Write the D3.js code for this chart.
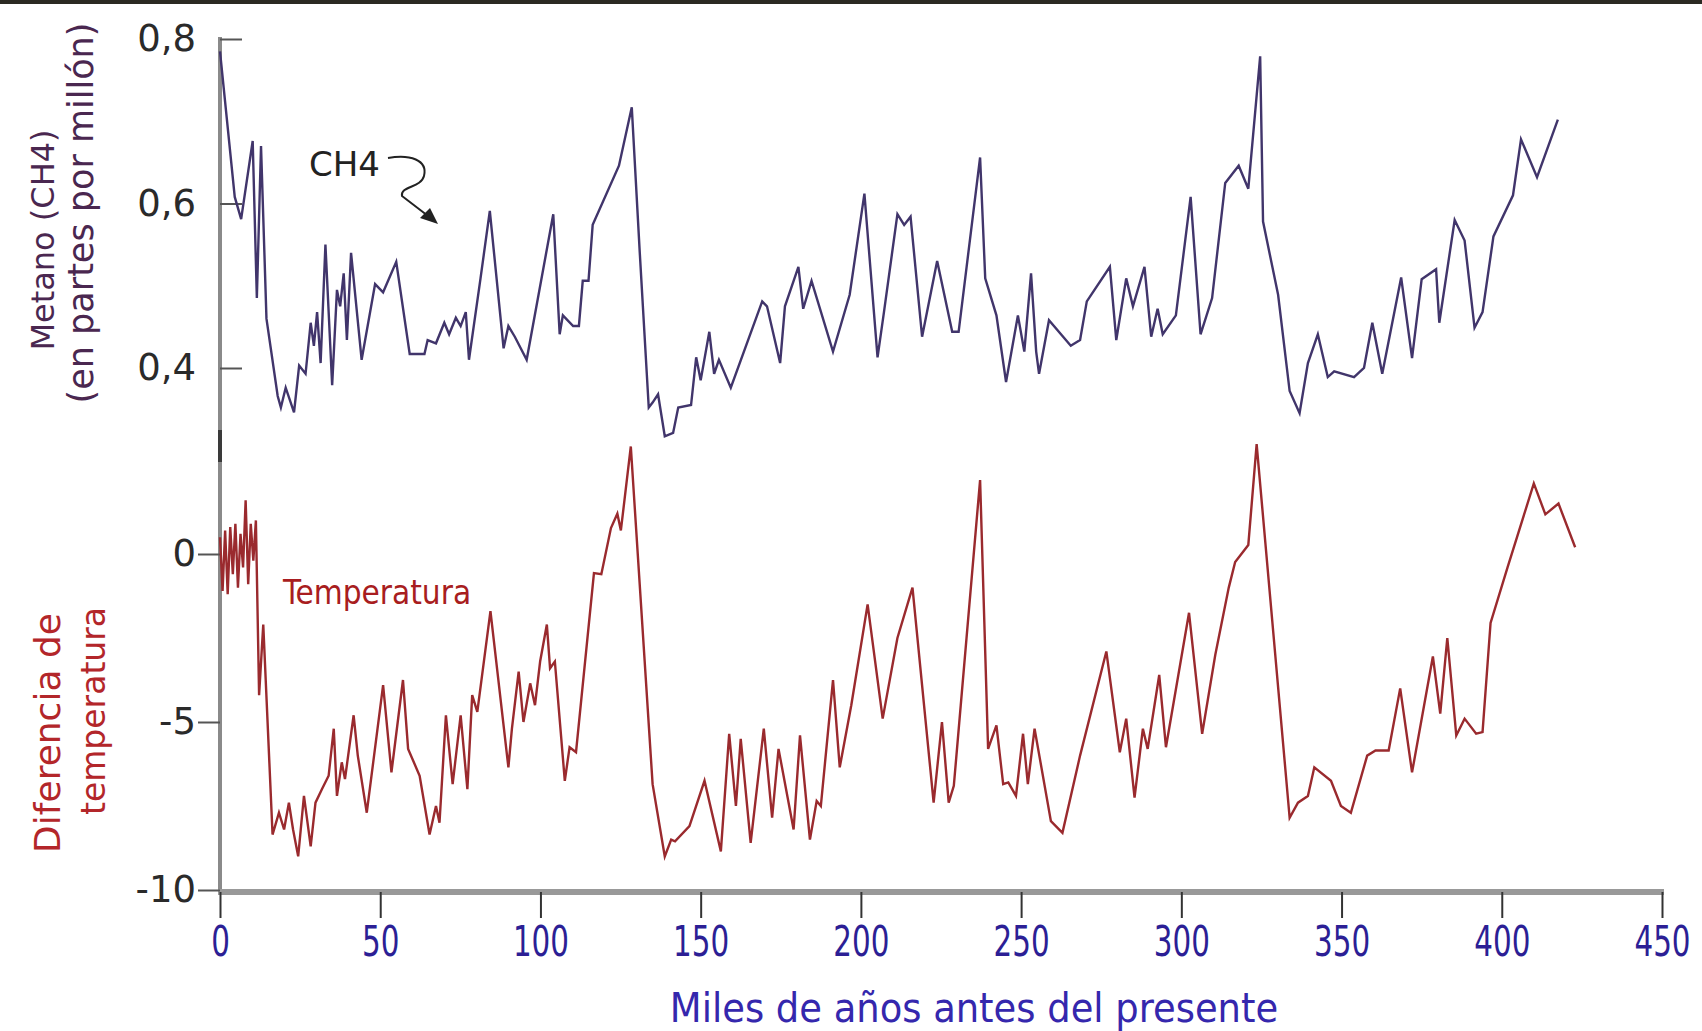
<!DOCTYPE html>
<html>
<head>
<meta charset="utf-8">
<script src="https://cdn.jsdelivr.net/npm/d3@7"></script>
<style>
  body { margin: 0; background: #fff; }
  text { font-family: "Comic Sans MS", "DejaVu Sans", sans-serif; }
</style>
</head>
<body>
<script>
// Metano (CH4) y temperatura, Vostok, miles de años antes del presente
var ch4Years = [0, 4.6, 6.6, 10.2, 11.5, 12.8, 14.5, 18, 19, 20.5, 23.1, 24.7, 26.7, 28.3, 29.3, 30.3, 31.4,
  32.9, 35, 36.5, 37.5, 38.6, 39.6, 40.9, 44.2, 48.4, 50.9, 55, 59.2, 63.8, 64.8, 67.4, 70, 71.5, 73.6,
  75.1, 76.7, 77.7, 81.3, 84.2, 88.5, 90, 92, 95.7, 104, 106, 107, 110.2, 112, 113.2, 115, 116.3, 124.5,
  128.5, 131, 133.8, 135, 136.7, 138.8, 141.4, 143, 147, 148.6, 150, 152.7, 154.2, 155.7, 159.4, 169.2,
  170.7, 174.8, 176.3, 180.5, 182, 184.6, 191.3, 196.5, 201.1, 205.2, 207.2, 211.4, 213.5, 215.5, 219.1,
  223.8, 228.5, 230.5, 237.2, 238.8, 242.3, 245.3, 249, 251, 253.1, 254.7, 255.6, 258.7, 265.5, 268.4,
  270.5, 277.7, 279.7, 282.8, 284.9, 288.5, 290.6, 292.6, 294.2, 298.3, 302.9, 306, 309.6, 313.7, 317.9,
  320.9, 324.6, 325.5, 330.2, 333.8, 336.9, 339.5, 342.6, 345.7, 347.7, 353.9, 357, 359.6, 362.7, 368.6,
  372, 375, 379.5, 380.5, 385.3, 388.4, 391.5, 394, 397.4, 403.5, 406, 411, 417.5];
var ch4Values = [0.785, 0.608, 0.581, 0.676, 0.485, 0.67, 0.46, 0.366, 0.352, 0.376, 0.346, 0.403, 0.393,
  0.455, 0.427, 0.468, 0.406, 0.55, 0.379, 0.495, 0.475, 0.515, 0.434, 0.54, 0.41, 0.502, 0.492, 0.529,
  0.417, 0.417, 0.434, 0.43, 0.455, 0.441, 0.461, 0.451, 0.468, 0.41, 0.509, 0.591, 0.424, 0.451, 0.438,
  0.41, 0.587, 0.441, 0.464, 0.451, 0.451, 0.506, 0.506, 0.574, 0.646, 0.717, 0.54, 0.352, 0.358, 0.368,
  0.317, 0.321, 0.352, 0.355, 0.413, 0.385, 0.444, 0.393, 0.41, 0.376, 0.481, 0.475, 0.406, 0.475, 0.523,
  0.472, 0.506, 0.42, 0.489, 0.612, 0.413, 0.468, 0.587, 0.574, 0.584, 0.438, 0.53, 0.444, 0.444, 0.656,
  0.509, 0.464, 0.383, 0.464, 0.42, 0.515, 0.42, 0.393, 0.458, 0.427, 0.434, 0.481, 0.523, 0.434, 0.509,
  0.475, 0.523, 0.438, 0.472, 0.441, 0.464, 0.608, 0.441, 0.485, 0.625, 0.646, 0.618, 0.779, 0.578, 0.489,
  0.372, 0.345, 0.406, 0.441, 0.389, 0.396, 0.389, 0.4, 0.455, 0.393, 0.51, 0.412, 0.508, 0.52, 0.455,
  0.58, 0.555, 0.449, 0.468, 0.56, 0.61, 0.678, 0.632, 0.702];

var tempYears = [0, 0.8, 1.6, 2.4, 3.2, 4, 4.8, 5.6, 6.4, 7.2, 8, 8.8, 9.6, 10.4, 11.2, 12.2, 13.5, 16.4,
  18.4, 20, 21.5, 22.8, 24.4, 26.2, 28.3, 29.8, 31.8, 33.9, 35.5, 36.5, 38, 39, 41.7, 43, 45.8, 50.9, 53.5,
  57.1, 58.7, 62.3, 65.4, 67.4, 68.5, 70.5, 72.6, 75.1, 77.2, 78.7, 80.3, 84.4, 90, 91.1, 93.2, 94.7, 96.8,
  98.3, 99.9, 102, 103, 104.5, 107.6, 109.1, 111.1, 116.7, 119, 122, 124, 125.1, 128.2, 135, 138.8, 140.8,
  142, 146.5, 151.2, 156.3, 158.9, 161, 162.5, 165.6, 169.7, 172.3, 174.3, 179, 181, 184.1, 186.2, 187.5,
  191.3, 193.4, 197, 202.1, 206.8, 211.4, 216.1, 222.7, 225.3, 227.4, 229, 237.2, 239.7, 242.3, 244.4,
  246, 248.4, 250.6, 252.1, 254.2, 259.3, 262.9, 268.4, 276.6, 280.8, 282.8, 285.4, 288, 289.5, 293.1,
  295.2, 302.4, 306.5, 310.6, 314.8, 316.8, 320.9, 323.5, 333.8, 336.4, 339.5, 341.5, 346.7, 349.8, 352.9,
  358, 360.6, 364.7, 368.3, 372, 378.5, 380.8, 383, 385.8, 388.4, 392, 394, 396.5, 401.8, 410, 413.6,
  417.7, 422.9];
var tempValues = [0.5, -1.1, 0.7, -1.2, 0.8, -0.6, 0.9, -1.0, 0.6, -0.4, 1.6, -0.9, 0.9, -0.2, 1.0, -4.2,
  -2.1, -8.35, -7.7, -8.2, -7.4, -8.2, -9.0, -7.2, -8.7, -7.4, -7.0, -6.6, -5.2, -7.2, -6.2, -6.7, -4.8,
  -6.0, -7.7, -3.9, -6.5, -3.75, -5.8, -6.6, -8.35, -7.5, -8.0, -4.8, -6.85, -4.8, -7.0, -4.2, -4.7, -1.7,
  -6.35, -5.2, -3.5, -5.0, -3.85, -4.5, -3.2, -2.1, -3.4, -3.2, -6.75, -5.75, -5.9, -0.57, -0.6, 0.77,
  1.2, 0.7, 3.2, -6.85, -9.0, -8.5, -8.55, -8.1, -6.75, -8.85, -5.35, -7.5, -5.5, -8.6, -5.2, -7.85, -5.8,
  -8.2, -5.4, -8.5, -7.35, -7.5, -3.75, -6.35, -4.5, -1.5, -4.9, -2.5, -1.0, -7.4, -5.0, -7.4, -6.9, 2.2,
  -5.8, -5.1, -6.85, -6.8, -7.2, -5.35, -6.85, -5.2, -7.95, -8.3, -6.0, -2.9, -5.9, -4.9, -7.25, -5.2,
  -5.8, -3.6, -5.75, -1.75, -5.35, -3.0, -1.0, -0.24, 0.27, 3.27, -7.85, -7.4, -7.2, -6.35, -6.75, -7.5,
  -7.7, -6.0, -5.85, -5.85, -4.0, -6.5, -3.05, -4.75, -2.5, -5.4, -4.9, -5.35, -5.3, -2.05, -0.4, 2.1,
  1.18, 1.5, 0.2];

var xTicks = [0, 50, 100, 150, 200, 250, 300, 350, 400, 450];
var ch4Ticks = [0.4, 0.6, 0.8];
var tempTicks = [-10, -5, 0];

var width = 1702, height = 1031;
var axisX = 220, axisY = 892;
var narrow = "'Liberation Sans Narrow', 'DejaVu Sans Condensed', 'DejaVu Sans', sans-serif";

var svg = d3.select("body").append("svg")
    .attr("width", width)
    .attr("height", height);

svg.append("rect").attr("width", width).attr("height", height).attr("fill", "#fff");
// dark strip along the top edge of the scan
svg.append("rect").attr("width", width).attr("height", 4).attr("fill", "#2b2a22");

var x = d3.scaleLinear().domain([0, 450]).range([axisX, 1662]);
var yCh4 = d3.scaleLinear().domain([0.4, 0.8]).range([368, 39]);
var yTemp = d3.scaleLinear().domain([-10, 0]).range([890, 554]);

// axis lines
svg.append("line")
    .attr("x1", axisX).attr("x2", axisX).attr("y1", yCh4(0.8) - 2).attr("y2", axisY)
    .attr("stroke", "#8a8a8a").attr("stroke-width", 4);
svg.append("line")
    .attr("x1", axisX).attr("x2", axisX).attr("y1", 430).attr("y2", 462)
    .attr("stroke", "#3a3a3a").attr("stroke-width", 4);
svg.append("line")
    .attr("x1", axisX - 2).attr("x2", x(450) + 2).attr("y1", axisY).attr("y2", axisY)
    .attr("stroke", "#999").attr("stroke-width", 6);

// x axis (labels squeezed, the original font is a narrow one)
var gx = svg.append("g")
    .attr("transform", "translate(0," + axisY + ")")
    .call(d3.axisBottom(x).tickValues(xTicks).tickSize(26).tickPadding(7).tickFormat(function(d){ return String(d); }));
gx.select(".domain").remove();
gx.selectAll(".tick line").attr("stroke", "#333").attr("stroke-width", 2);
gx.selectAll(".tick text")
    .attr("fill", "#2c1f95")
    .attr("transform", "scale(0.76,1)")
    .style("font-family", narrow)
    .style("font-size", "43px");

svg.append("text")
    .attr("x", 974).attr("y", 1022)
    .attr("text-anchor", "middle")
    .attr("fill", "#3527ad")
    .style("font-family", narrow)
    .style("font-size", "41px")
    .text("Miles de años antes del presente");

// CH4 axis: ticks to the right, labels to the left
var gCh4 = svg.append("g")
    .attr("transform", "translate(" + axisX + ",0)")
    .call(d3.axisLeft(yCh4).tickValues(ch4Ticks).tickSizeInner(-22).tickSizeOuter(0).tickPadding(24)
        .tickFormat(function(d){ return d.toFixed(1).replace(".", ","); }));
gCh4.select(".domain").remove();
gCh4.selectAll(".tick line").attr("stroke", "#555").attr("stroke-width", 2);
gCh4.selectAll(".tick text").attr("fill", "#2a2a2a").style("font-size", "37px");

// temperature axis
var gTemp = svg.append("g")
    .attr("transform", "translate(" + axisX + ",0)")
    .call(d3.axisLeft(yTemp).tickValues(tempTicks).tickSize(22).tickPadding(2).tickFormat(function(d){ return String(d); }));
gTemp.select(".domain").remove();
gTemp.selectAll(".tick line").attr("stroke", "#555").attr("stroke-width", 2);
gTemp.selectAll(".tick text").attr("fill", "#2a2a2a").style("font-size", "37px");

// axis titles
var leftTitles = [
  {text: "Metano (CH4)", x: 45, y: 240, color: "#4a2750", size: 32},
  {text: "(en partes por millón)", x: 83, y: 213, color: "#4a2750", size: 35},
  {text: "Diferencia de", x: 50, y: 733, color: "#b3262a", size: 36},
  {text: "temperatura", x: 95, y: 711, color: "#b3262a", size: 33}
];
svg.selectAll(".ytitle").data(leftTitles).enter().append("text")
    .attr("class", "ytitle")
    .attr("transform", function(d){ return "translate(" + d.x + "," + d.y + ") rotate(-90)"; })
    .attr("text-anchor", "middle")
    .attr("dominant-baseline", "middle")
    .attr("fill", function(d){ return d.color; })
    .style("font-size", function(d){ return d.size + "px"; })
    .text(function(d){ return d.text; });

// series
var ch4Line = d3.line()
    .x(function(d, i){ return x(ch4Years[i]); })
    .y(function(d){ return yCh4(d); });
var tempLine = d3.line()
    .x(function(d, i){ return x(tempYears[i]); })
    .y(function(d){ return yTemp(d); });

svg.append("path").datum(ch4Values)
    .attr("d", ch4Line)
    .attr("fill", "none")
    .attr("stroke", "#41356b")
    .attr("stroke-width", 2.4);

svg.append("path").datum(tempValues)
    .attr("d", tempLine)
    .attr("fill", "none")
    .attr("stroke", "#9a2a2e")
    .attr("stroke-width", 2.4);

// annotations
svg.append("text")
    .attr("x", 309).attr("y", 176)
    .attr("fill", "#222")
    .style("font-size", "34px")
    .text("CH4");
svg.append("path")
    .attr("d", "M388,158 C410,154 428,160 424,176 C421,188 400,186 402,196 L432,219")
    .attr("fill", "none")
    .attr("stroke", "#222")
    .attr("stroke-width", 2);
svg.append("path")
    .attr("d", "M438,224 L420,218 L430,208 Z")
    .attr("fill", "#222");

svg.append("text")
    .attr("x", 283).attr("y", 604)
    .attr("fill", "#a81d20")
    .style("font-family", narrow)
    .style("font-size", "33px")
    .text("Temperatura");
</script>
</body>
</html>
